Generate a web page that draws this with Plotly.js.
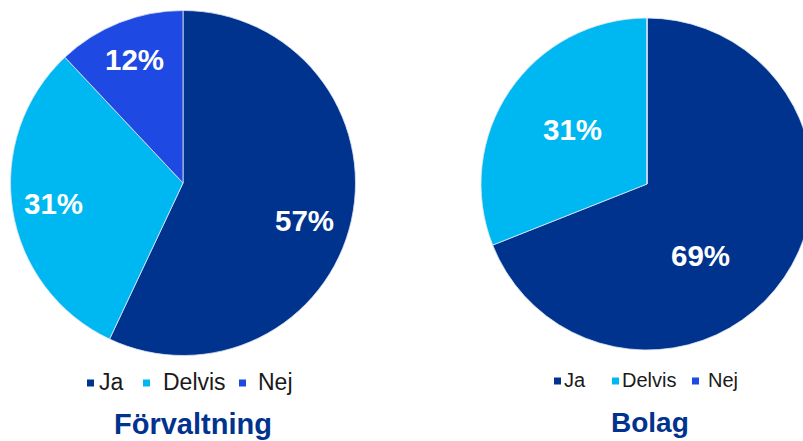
<!DOCTYPE html>
<html>
<head>
<meta charset="utf-8">
<script src="https://cdn.plot.ly/plotly-3.0.1.min.js"></script>
<style>
html,body{margin:0;padding:0;overflow:hidden;background:#fff;width:803px;height:441px;}
#chart{width:830px;height:441px;}
</style>
</head>
<body>
<div id="chart"></div>
<script>
// ---- data ----
const categories = ["Ja", "Delvis", "Nej"];
const forvaltningValues = [57, 31, 12];
const bolagValues = [69, 31, 0];
const pieTitles = ["Förvaltning", "Bolag"];
const colors = ["#00338D", "#00B8F1", "#1E49E2"];

// ---- layout helpers (pixel -> paper) ----
const W = 830, H = 441;
const px = x => x / W;
const py = y => 1 - y / H;

const pies = [
  {values: forvaltningValues, title: pieTitles[0], cx: 183, cy: 183, r: 172.5, labelFrac: 0.76,
   labelNudge: [[-6, 9], [0, 0], [0, -2]],
   legendSq: [87, 143, 239], legendText: [97, 161, 256], legendY: 382, legendFont: 23, sq: 7,
   titleX: 193, titleY: 424, titleFont: 29},
  {values: bolagValues, title: pieTitles[1], cx: 647, cy: 184, r: 166, labelFrac: 0.56,
   labelNudge: [[-23, 19], [2, -2], [0, 0]],
   legendSq: [554, 612, 692], legendText: [562, 620, 706], legendY: 380, legendFont: 20, sq: 7,
   titleX: 650, titleY: 422, titleFont: 28}
];

const traces = [];
const annotations = [];
const shapes = [];

pies.forEach((p, i) => {
  traces.push({
    type: "pie",
    labels: categories,
    values: p.values,
    sort: false,
    direction: "clockwise",
    rotation: 0,
    marker: {colors: colors, line: {color: "#dfe6f2", width: 0.8}},
    textinfo: "none",
    hoverinfo: "label+percent",
    showlegend: false,
    domain: {x: [px(p.cx - p.r), px(p.cx + p.r)], y: [py(p.cy + p.r), py(p.cy - p.r)]}
  });

  // slice labels
  const total = p.values.reduce((a, b) => a + b, 0);
  let cum = 0;
  p.values.forEach((v, k) => {
    const mid = (cum + v / 2) / total * 2 * Math.PI;
    cum += v;
    if (v <= 0) return;
    const d = p.r * p.labelFrac;
    const x = p.cx + d * Math.sin(mid) + p.labelNudge[k][0];
    const y = p.cy - d * Math.cos(mid) + p.labelNudge[k][1];
    annotations.push({
      xref: "paper", yref: "paper", x: px(x), y: py(y),
      xanchor: "center", yanchor: "middle", showarrow: false,
      text: "<b>" + Math.round(v / total * 100) + "%</b>",
      font: {family: "Liberation Sans, Arial, sans-serif", size: 29.5, color: "#ffffff"}
    });
  });

  // custom legend
  const fs = p.legendFont;
  const sq = p.sq;
  categories.forEach((c, k) => {
    const x = p.legendSq[k];
    shapes.push({
      type: "rect", xref: "paper", yref: "paper",
      x0: px(x), x1: px(x + sq), y0: py(p.legendY + sq / 2 + 1), y1: py(p.legendY - sq / 2 + 1),
      fillcolor: colors[k], line: {width: 0}
    });
    annotations.push({
      xref: "paper", yref: "paper", x: px(p.legendText[k]), y: py(p.legendY),
      xanchor: "left", yanchor: "middle", showarrow: false,
      text: c,
      font: {family: "Liberation Sans, Arial, sans-serif", size: fs, color: "#1a1a1a"}
    });
  });

  // title
  annotations.push({
    xref: "paper", yref: "paper", x: px(p.titleX), y: py(p.titleY),
    xanchor: "center", yanchor: "middle", showarrow: false,
    text: "<b>" + p.title + "</b>",
    font: {family: "Liberation Sans, Arial, sans-serif", size: p.titleFont, color: "#00338D"}
  });
});

const layout = {
  width: W, height: H,
  margin: {l: 0, r: 0, t: 0, b: 0},
  paper_bgcolor: "#ffffff",
  plot_bgcolor: "#ffffff",
  showlegend: false,
  annotations: annotations,
  shapes: shapes
};

Plotly.newPlot("chart", traces, layout, {displayModeBar: false, staticPlot: true});
</script>
</body>
</html>
